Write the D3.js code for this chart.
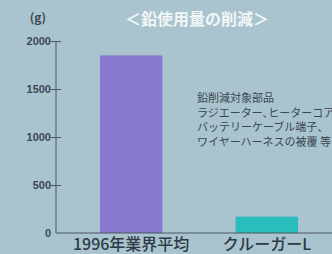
<!DOCTYPE html>
<meta charset="utf-8" />
<style>
  body {
    margin: 0;
    background: #a9c4cf;
    font-family: "Noto Sans CJK JP", sans-serif;
  }
  svg {
    display: block;
  }
  .axis line,
  .axis path {
    stroke: #4a5660;
  }
  .axis text {
    fill: #3c4852;
    font-family: "Liberation Sans", Arial;
    font-weight: bold;
    font-size: 11px;
  }
</style>
<body>
  <div class="container"></div>
  <script src="https://d3js.org/d3.v7.min.js"></script>
  <script>
    const categories = ["1996年業界平均", "クルーガーL"];
    const leadUse = [1850, 170];
    const barColors = ["#8878d0", "#2bbcbc"];
    const yTicks = [0, 500, 1000, 1500, 2000];
    const noteLines = [
      "鉛削減対象部品",
      "ラジエーター､ヒーターコア、",
      "バッテリーケーブル端子、",
      "ワイヤーハーネスの被覆 等",
    ];

    var W = 332,
      H = 254;
    var margin = { top: 41, right: 0, bottom: 21, left: 56 },
      width = W - margin.left - margin.right,
      height = H - margin.top - margin.bottom;

    var svg = d3
      .select(".container")
      .append("svg")
      .attr("width", W)
      .attr("height", H);

    var g = svg
      .append("g")
      .attr("transform", "translate(" + margin.left + "," + margin.top + ")");

    // categories sit at 132 and 265 in page x
    let x = d3
      .scaleBand()
      .domain(categories)
      .range([10, 276])
      .paddingInner(0.54)
      .paddingOuter(0.25);

    let y = d3.scaleLinear().domain([0, 2000]).range([height, 0]);

    g.selectAll(".bar")
      .data(leadUse)
      .enter()
      .append("rect")
      .attr("class", "bar")
      .attr("x", (d, i) => x(categories[i]))
      .attr("width", x.bandwidth())
      .attr("y", (d) => y(d))
      .attr("height", (d) => height - y(d))
      .attr("fill", (d, i) => barColors[i]);

    var yAxis = g
      .append("g")
      .attr("class", "axis")
      .call(
        d3
          .axisLeft(y)
          .tickValues(yTicks)
          .tickFormat(d3.format("d"))
          .tickSize(5)
          .tickPadding(1)
      );
    yAxis.select(".domain").attr("d", "M0," + height + "V0");
    yAxis.selectAll(".tick line").attr("x2", 5).attr("x1", -5);
    yAxis
      .selectAll(".tick")
      .filter((d) => d === 0)
      .select("line")
      .remove();
    yAxis.selectAll(".tick text").attr("x", -5);

    g.append("line")
      .attr("x1", 0)
      .attr("x2", width)
      .attr("y1", height)
      .attr("y2", height)
      .attr("stroke", "#4a5660");

    g.selectAll(".cat")
      .data(categories)
      .enter()
      .append("text")
      .attr("class", "cat")
      .attr("x", (d) => x(d) + x.bandwidth() / 2)
      .attr("y", height + 17)
      .attr("text-anchor", "middle")
      .attr("fill", "#2e3a44")
      .style("font-size", "16px")
      .style("font-weight", "500")
      .text((d) => d);

    svg
      .append("text")
      .attr("x", 38)
      .attr("y", 22)
      .attr("text-anchor", "middle")
      .attr("fill", "#3c4852")
      .style("font-size", "12px")
      .style("font-weight", "bold")
      .text("(g)");

    svg
      .append("text")
      .attr("x", 197)
      .attr("y", 25)
      .attr("text-anchor", "middle")
      .attr("fill", "#f2f6f8")
      .style("font-size", "16px")
      .style("font-weight", "bold")
      .text("＜鉛使用量の削減＞");

    svg
      .selectAll(".note")
      .data(noteLines)
      .enter()
      .append("text")
      .attr("class", "note")
      .attr("x", 197)
      .attr("y", (d, i) => 102 + i * 14.5)
      .attr("fill", "#3a4650")
      .style("font-size", "11px")
      .text((d) => d);
  </script>
</body>
